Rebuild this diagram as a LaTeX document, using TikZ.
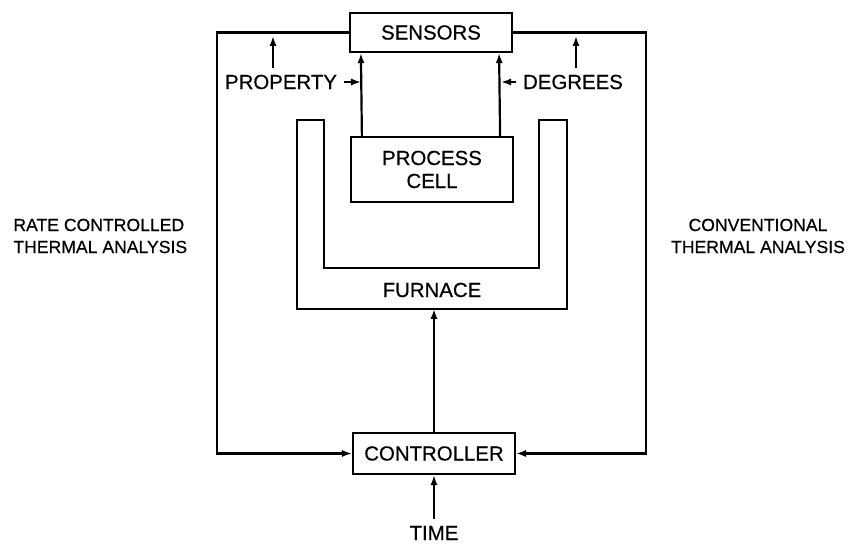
\documentclass[tikz,border=0pt]{standalone}
\usepackage{fontspec}
\setmainfont{Liberation Sans}[FakeBold=0.5]
\usetikzlibrary{calc}
\usetikzlibrary{arrows.meta}
\tikzset{>={Latex[length=5pt,width=3.6pt]}}
\tikzset{block/.style = {shape=rectangle,draw,line width=1.1pt,minimum width=81pt,inner sep=0pt,align=center}}
\tikzset{wire/.style = {line width=1.1pt}}
\tikzset{side/.style = {font=\fontsize{8.8}{11}\selectfont}}

\begin{document}
\begin{tikzpicture}[x=0.5pt,y=-0.5pt,font=\fontsize{10.2}{11.5}\selectfont]
                    \useasboundingbox (0,0) rectangle (847,545);

                    \node[block,minimum height=19.5pt] (sensors) at (431,32.5) {SENSORS};
                    \node[block,minimum height=32.5pt] (cell) at (432,169.5) {PROCESS\\CELL};
                    \node[block,minimum height=20.5pt] (controller) at (434,453.5) {CONTROLLER};

                    \draw[wire] (297,120) -- (324,120) -- (324,268) -- (539,268) -- (539,120)
                        -- (567,120) -- (567,309) -- (297,309) -- cycle;
                    \node (furnace) at (432,290) {FURNACE};
                    \coordinate (fb) at (434,309);

                    \node (property) at (281,82) {PROPERTY};
                    \node (degrees) at (573,82) {DEGREES};
                    \node (time) at (434,533) {TIME};
                    \node[side,anchor=west,align=left,inner sep=0pt] (rate) at (13,236) {RATE CONTROLLED\\THERMAL ANALYSIS};
                    \node[side,align=center] (conv) at (758,236) {CONVENTIONAL\\THERMAL ANALYSIS};

                    \coordinate (lt) at (217,32.5);
                    \coordinate (rt) at (646,32.5);
                    \coordinate (pa) at (273,68);
                    \coordinate (pb) at (273,36);
                    \coordinate (da) at (576,68);
                    \coordinate (db) at (576,36);

                    \draw[wire,->] (sensors.west) -- (lt) |- (controller.west);
                    \draw[wire,->] (sensors.east) -- (rt) |- (controller.east);
                    \draw[wire,->] ([xshift=6pt]cell.north west) -- ([xshift=6pt]sensors.south west);
                    \draw[wire,->] ([xshift=-7pt]cell.north east) -- ([xshift=-7pt]sensors.south east);
                    \draw[wire,->] (pa) -- (pb);
                    \draw[wire,->] (da) -- (db);
                    \draw[wire,->] (property.east) -- ++(8.5pt,0);
                    \draw[wire,->] (degrees.west) -- ++(-7.5pt,0);
                    \draw[wire,->] (controller) -- (fb);
                    \draw[wire,->] (time) -- (controller);
                \end{tikzpicture}
\end{document}
